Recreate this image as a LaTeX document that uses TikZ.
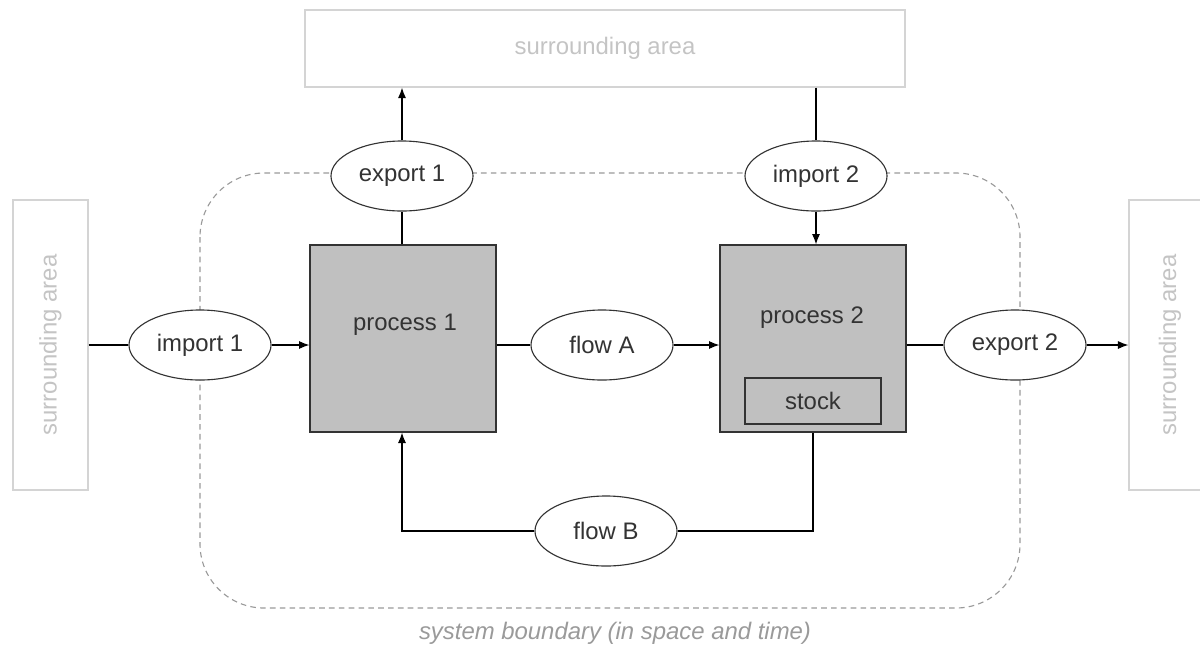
\documentclass[tikz,border=0pt]{standalone}
\usepackage{fontspec}
\setmainfont{Liberation Sans}
\usepackage{tikz}
\usetikzlibrary{arrows.meta,shapes.geometric,positioning}

\definecolor{areagray}{HTML}{D4D4D4}
\definecolor{areatext}{HTML}{C4C4C4}
\definecolor{procgray}{HTML}{C0C0C0}
\definecolor{textgray}{HTML}{333333}
\definecolor{bordergray}{HTML}{9A9A9A}

\begin{document}
\begin{tikzpicture}[x=0.025cm,y=-0.025cm,>={Latex[length=2.6mm,width=2mm]},line width=0.8pt,
	every node/.style={font=\fontsize{17}{20}\selectfont,text=textgray},
	area/.style={draw=areagray,line width=0.9pt,text=areatext},
	proc/.style={draw=black!80,fill=procgray,minimum width=4.65cm,minimum height=4.675cm},
	flow/.style={ellipse,draw=black!80,fill=white,inner sep=0pt,minimum width=3.55cm,minimum height=1.75cm}]
	\useasboundingbox (0,0) rectangle (1200,646);

	% system boundary
	\draw[bordergray,dashed,dash pattern=on 4pt off 3pt,rounded corners=1.6cm]
		(200,173) rectangle (1020,608);
	\node[text=bordergray,font=\fontsize{17}{20}\selectfont\itshape] (boundary) at (615,633)
		{system boundary (in space and time)};

	% surrounding areas
	\node[area,minimum width=15cm,minimum height=1.925cm] (top) at (605,48.5) {surrounding area};
	\node[area,minimum width=1.875cm,minimum height=7.25cm] (left) at (50.5,345) {};
	\node[text=areatext,rotate=90] at (left.center) {surrounding area};
	\node[area,minimum width=2.25cm,minimum height=7.25cm] (right) at (1174,345) {};
	\node[text=areatext,rotate=90] at (1170,345) {surrounding area};

	% processes
	\node[proc] (P1) at (403,338.5) {};
	\node at (405,325) {process 1};
	\node[proc] (P2) at (813,338.5) {};
	\node at (812,318) {process 2};
	\node[draw=black!80,minimum width=3.4cm,minimum height=1.15cm] (stock) at (813,401) {stock};

	% flows
	\node[flow] (imp1) at (200,345) {import 1};
	\node[flow] (exp1) at (402,176) {export 1};
	\node[flow] (imp2) at (816,176) {import 2};
	\node[flow] (flowA) at (602,345) {flow A};
	\node[flow] (exp2) at (1015,345) {export 2};
	\node[flow] (flowB) at (606,531) {flow B};

	\draw (left.east) -- (imp1.west);
	\draw[->] (imp1.east) -- (P1.west |- imp1.east);
	\draw (P1.east |- flowA.west) -- (flowA.west);
	\draw[->] (flowA.east) -- (P2.west |- flowA.east);
	\draw (P2.east |- exp2.west) -- (exp2.west);
	\draw[->] (exp2.east) -- (right.west |- exp2.east);
	\draw (P1.north -| exp1.south) -- (exp1.south);
	\draw[->] (exp1.north) -- (top.south -| exp1.north);
	\draw (top.south -| imp2.north) -- (imp2.north);
	\draw[->] (imp2.south) -- (P2.north -| imp2.south);
	\draw (P2.south) |- (flowB.east);
	\draw[->] (flowB.west) -| (exp1.south |- P1.south);
\end{tikzpicture}
\end{document}
